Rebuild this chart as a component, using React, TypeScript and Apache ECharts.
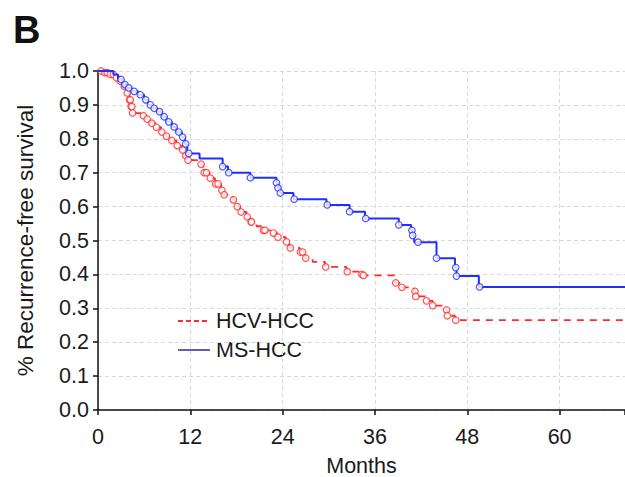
import React, { useEffect, useRef } from "react";
import * as echarts from "echarts";

// HCV-HCC Kaplan-Meier steps (month, survival after step)
const hcvMonths = [0, 0.8, 1.5, 2.2, 2.8, 3.3, 3.8, 4.1, 4.3, 4.5, 5.8, 6.3, 6.9, 7.5, 8.2, 8.8, 9.5, 10.2, 10.9, 11.3, 11.6, 13.3, 13.7, 14.5, 15.2, 16.0, 16.3, 17.5, 18.0, 18.5, 19.3, 19.8, 20.6, 21.4, 22.7, 23.3, 24.4, 24.9, 26.2, 26.9, 27.9, 29.5, 32.3, 34.3, 34.5, 38.6, 39.4, 41.1, 41.3, 42.7, 43.5, 45.2, 45.4, 46.4];
const hcvSurvival = [1.0, 0.995, 0.99, 0.98, 0.97, 0.955, 0.935, 0.915, 0.895, 0.876, 0.868, 0.858, 0.846, 0.834, 0.82, 0.808, 0.795, 0.78, 0.767, 0.75, 0.737, 0.725, 0.70, 0.684, 0.667, 0.648, 0.635, 0.62, 0.60, 0.584, 0.57, 0.555, 0.542, 0.53, 0.522, 0.51, 0.496, 0.478, 0.466, 0.448, 0.437, 0.422, 0.408, 0.40, 0.397, 0.375, 0.362, 0.35, 0.335, 0.322, 0.308, 0.295, 0.278, 0.265];
const hcvCensorMonths = [0.4, 0.9, 1.2, 1.6, 2.0, 2.4, 2.9, 3.4, 3.8, 4.1, 4.2, 4.3, 4.4, 4.5, 5.9, 6.4, 7.0, 7.6, 8.3, 8.9, 9.6, 10.3, 11.0, 11.4, 11.7, 13.4, 13.8, 14.1, 14.6, 15.3, 15.6, 16.1, 16.4, 17.6, 18.1, 18.6, 19.4, 19.9, 19.95, 21.5, 21.7, 22.8, 23.4, 24.5, 25.0, 26.3, 26.6, 27.0, 29.6, 32.4, 34.3, 34.5, 38.7, 39.5, 41.2, 41.3, 42.7, 43.5, 45.3, 45.4, 46.5];

// MS-HCC Kaplan-Meier steps
const msMonths = [0, 2.0, 2.6, 3.2, 3.8, 4.4, 5.2, 6.0, 6.5, 7.0, 7.7, 8.3, 8.9, 9.6, 10.2, 10.9, 11.3, 11.6, 13.2, 16.2, 16.9, 19.8, 23.2, 23.4, 23.7, 25.4, 29.7, 32.7, 34.7, 39.1, 40.7, 40.9, 41.1, 44.0, 46.4, 46.6, 49.5];
const msSurvival = [1.0, 0.99, 0.975, 0.96, 0.95, 0.94, 0.93, 0.915, 0.90, 0.89, 0.88, 0.865, 0.85, 0.835, 0.82, 0.805, 0.785, 0.757, 0.742, 0.718, 0.70, 0.685, 0.67, 0.655, 0.64, 0.622, 0.605, 0.585, 0.565, 0.546, 0.53, 0.515, 0.495, 0.448, 0.42, 0.395, 0.363];
const msCensorMonths = [3.0, 3.5, 4.0, 4.7, 5.5, 6.2, 6.8, 7.3, 8.0, 8.6, 9.2, 9.9, 10.5, 11.0, 11.4, 11.8, 16.2, 17.0, 19.8, 23.2, 23.4, 23.7, 25.5, 29.8, 32.7, 34.8, 39.1, 40.8, 40.9, 41.6, 44.0, 46.5, 46.6, 49.6];

const xTickMonths = [0, 12, 24, 36, 48, 60];
const X_MAX = 68.5;
const seriesNames = ["HCV-HCC", "MS-HCC"];

const RED = "#ff2b2b";
const BLUE = "#1f2fff";
const FONT = "'Liberation Sans', Arial, sans-serif";
const FS = 21.5;

function survAt(months: number[], surv: number[], t: number) {
  let s = surv[0];
  for (let i = 0; i < months.length; i++) if (months[i] <= t + 1e-9) s = surv[i];
  return s;
}
function stepData(months: number[], surv: number[]) {
  const d = months.map((m, i) => [m, surv[i]]);
  d.push([X_MAX, surv[surv.length - 1]]);
  return d;
}
function censorData(months: number[], surv: number[], cens: number[]) {
  return cens.map((t) => [t, survAt(months, surv, t)]);
}

export default function App() {
  const ref = useRef<HTMLDivElement>(null);
  useEffect(() => {
    if (!ref.current) return;
    const chart = echarts.init(ref.current, undefined, { renderer: "svg" });
    const censorStyle = (c: string) => ({ color: "#ffffff", borderColor: c, borderWidth: 1.2 });
    chart.setOption({
      animation: false,
      backgroundColor: "#ffffff",
      textStyle: { fontFamily: FONT },
      grid: { left: 98, right: 0, top: 71, bottom: 67, containLabel: false, outerBoundsMode: "none" },
      xAxis: {
        type: "value",
        min: 0,
        max: X_MAX,
        interval: 12,
        name: "Months",
        nameLocation: "middle",
        nameGap: 45,
        nameTextStyle: { fontSize: FS, color: "#1a1a1a", fontFamily: FONT },
        axisLine: { show: true, lineStyle: { color: "#111", width: 1.5 } },
        axisTick: { show: true, length: 5, lineStyle: { color: "#111", width: 1.5 } },
        axisLabel: {
          fontSize: FS,
          color: "#1a1a1a",
          margin: 16,
          fontFamily: FONT,
          formatter: (v: number) => (xTickMonths.indexOf(v) >= 0 ? String(v) : ""),
        },
        splitLine: { show: true, lineStyle: { color: "#d9d9d9", type: [4, 3], width: 1 } },
      },
      yAxis: {
        type: "value",
        min: 0,
        max: 1,
        interval: 0.1,
        name: "% Recurrence-free survival",
        nameLocation: "middle",
        nameGap: 61,
        nameTextStyle: { fontSize: 22.5, color: "#1a1a1a", fontFamily: FONT },
        axisLine: { show: true, lineStyle: { color: "#111", width: 1.5 } },
        axisTick: { show: true, length: 5, lineStyle: { color: "#111", width: 1.5 } },
        axisLabel: {
          fontSize: FS,
          color: "#1a1a1a",
          margin: 9,
          fontFamily: FONT,
          formatter: (v: number) => v.toFixed(1),
        },
        splitLine: { show: true, lineStyle: { color: "#d9d9d9", type: [4, 3], width: 1 } },
      },
      series: [
        {
          name: seriesNames[0],
          type: "line",
          step: "end",
          data: stepData(hcvMonths, hcvSurvival),
          symbol: "none",
          lineStyle: { color: RED, width: 1.8, type: [7, 6] },
          z: 2,
        },
        {
          name: seriesNames[0] + " censored",
          type: "scatter",
          data: censorData(hcvMonths, hcvSurvival, hcvCensorMonths),
          symbol: "circle",
          symbolSize: 6.5,
          itemStyle: censorStyle(RED),
          z: 3,
        },
        {
          name: seriesNames[1],
          type: "line",
          step: "end",
          data: stepData(msMonths, msSurvival),
          symbol: "none",
          lineStyle: { color: BLUE, width: 2 },
          z: 4,
        },
        {
          name: seriesNames[1] + " censored",
          type: "scatter",
          data: censorData(msMonths, msSurvival, msCensorMonths),
          symbol: "circle",
          symbolSize: 6.5,
          itemStyle: censorStyle(BLUE),
          z: 5,
        },
      ],
      graphic: [
        {
          type: "text",
          left: 13,
          top: 11,
          style: { text: "B", font: `bold 38px ${FONT}`, fill: "#111" },
        },
        {
          type: "line",
          shape: { x1: 178, y1: 321, x2: 210, y2: 321 },
          style: { stroke: RED, lineWidth: 1.8, lineDash: [5, 3] },
        },
        {
          type: "text",
          x: 216,
          y: 321,
          style: { text: seriesNames[0], font: `${FS}px ${FONT}`, fill: "#1a1a1a", textVerticalAlign: "middle" },
        },
        {
          type: "line",
          shape: { x1: 178, y1: 350, x2: 210, y2: 350 },
          style: { stroke: "#2a2a90", lineWidth: 1.5 },
        },
        {
          type: "text",
          x: 216,
          y: 350,
          style: { text: seriesNames[1], font: `${FS}px ${FONT}`, fill: "#1a1a1a", textVerticalAlign: "middle" },
        },
      ],
    });
    return () => chart.dispose();
  }, []);
  return (
    <div
      ref={ref}
      style={{ position: "fixed", left: 0, top: 0, width: 625, height: 477, background: "#fff" }}
    />
  );
}
